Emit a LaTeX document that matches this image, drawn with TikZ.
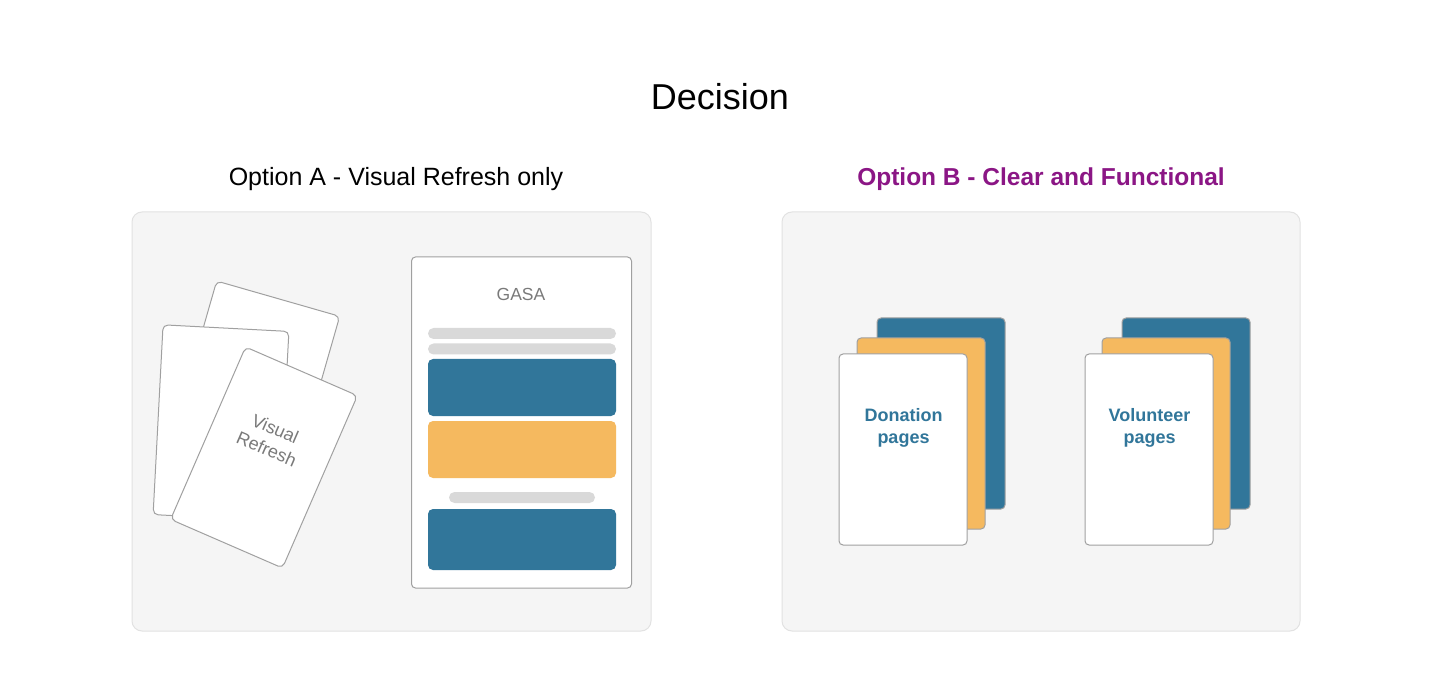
\documentclass[tikz,border=0pt]{standalone}
\usepackage{fontspec}
\setmainfont{Liberation Sans}
\definecolor{tealblue}{HTML}{31769A}
\definecolor{amber}{HTML}{F5B95F}
\definecolor{plum}{HTML}{8B1685}
\definecolor{panelbg}{HTML}{F5F5F5}
\definecolor{panelline}{HTML}{E2E2E2}
\definecolor{cardline}{HTML}{A0A0A0}
\definecolor{bargray}{HTML}{D9D9D9}
\definecolor{txtgray}{HTML}{7A7A7A}
\tikzset{
  box/.style={inner sep=0pt, outer sep=0pt, anchor=north west},
  panel/.style={box, fill=panelbg, draw=panelline, line width=1pt, rounded corners=10pt},
  sheet/.style={box, fill=white, draw=cardline, line width=1pt, rounded corners=4pt},
  card/.style={inner sep=0pt, fill=white, draw=cardline, line width=1pt, rounded corners=5pt},
  bar/.style={box, fill=bargray, rounded corners=5.5pt, minimum height=11pt},
  block/.style={box, rounded corners=5pt, minimum width=188pt},
  page/.style={box, draw=cardline, line width=1pt, rounded corners=4pt, minimum width=128pt, minimum height=191pt},
  pagelabel/.style={align=center, text=tealblue, font=\fontsize{18}{22}\selectfont\bfseries},
}
\begin{document}
\begin{tikzpicture}[x=1pt,y=-1pt]
\useasboundingbox (0,0) rectangle (1440,700);
\fill[white] (0,0) rectangle (1440,700);

% titles
\node (title) at (720,97) {\fontsize{36}{40}\selectfont Decision};
\node (tA) at (396,179) {\fontsize{25}{30}\selectfont Option A - Visual Refresh only};
\node (tB) at (1041,179) {\fontsize{24.5}{30}\selectfont\bfseries\color{plum}Option B - Clear and Functional};

% panels
\node[panel, minimum width=519pt, minimum height=419pt] (pA) at (132,212) {};
\node[panel, minimum width=518pt, minimum height=419pt] (pB) at (782,212) {};

% Option A: scattered cards
\node[card, rotate=-16, minimum width=128pt, minimum height=190pt] (c1) at (252,390) {};
\node[card, rotate=-3, minimum width=126pt, minimum height=190pt] (c2) at (221,423) {};
\node[card, rotate=-23.5, minimum width=122pt, minimum height=188pt] (c3) at (264,457.5) {};
\node[rotate=-23.5, align=center, text=txtgray, font=\fontsize{18}{22}\selectfont] (vr) at (271,439) {Visual\\Refresh};

% Option A: GASA page
\node[sheet, minimum width=220pt, minimum height=331pt] (gasa) at (411.5,257) {};
\node[text=txtgray, font=\fontsize{17.5}{20}\selectfont] (gt) at (521,294) {GASA};
\node[bar, minimum width=188pt] (b1) at (428,328) {};
\node[bar, minimum width=188pt] (b2) at (428,343.5) {};
\node[block, fill=tealblue, minimum height=57pt] (k1) at (428,359) {};
\node[block, fill=amber, minimum height=57pt] (k2) at (428,421) {};
\node[bar, minimum width=146pt] (b3) at (449,492) {};
\node[block, fill=tealblue, minimum height=61pt] (k3) at (428,509) {};

% Option B: donation stack
\node[page, fill=tealblue] (d3) at (877,318) {};
\node[page, fill=amber] (d2) at (857,338) {};
\node[page, fill=white] (d1) at (839,354) {};
\node[pagelabel] (dl) at (903.5,428) {Donation\\pages};

% Option B: volunteer stack
\node[page, fill=tealblue] (v3) at (1122,318) {};
\node[page, fill=amber] (v2) at (1102,338) {};
\node[page, fill=white] (v1) at (1085,354) {};
\node[pagelabel] (vl) at (1149.5,428) {Volunteer\\pages};
\end{tikzpicture}
\end{document}
